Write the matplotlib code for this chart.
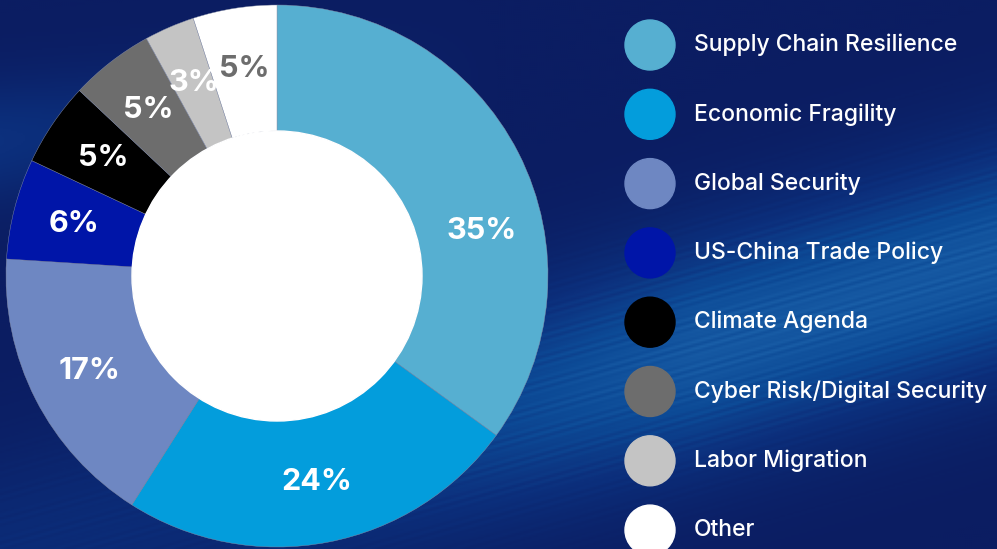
import numpy as np
import matplotlib.pyplot as plt
from matplotlib.colors import LinearSegmentedColormap

labels = ["Supply Chain Resilience", "Economic Fragility", "Global Security",
          "US-China Trade Policy", "Climate Agenda", "Cyber Risk/Digital Security",
          "Labor Migration", "Other"]
values = [35, 24, 17, 6, 5, 5, 3, 5]
colors = ["#56afd1", "#039ddc", "#6e87c2", "#0015a8", "#000000", "#6d6d6d", "#c4c4c4", "#ffffff"]
label_colors = ["white", "white", "white", "white", "white", "white", "white", "#6d6d6d"]
# label angle nudge (degrees), the big slice label sits lower than its mid angle
label_nudge = [-14.5, 0, 0, 0, 0, 0, 0, 0]

W, H = 997, 549
fig = plt.figure(figsize=(W / 100, H / 100), dpi=100)
ax = fig.add_axes([0, 0, 1, 1])

# background: navy with a lighter streaky band through the lower right
yy, xx = np.mgrid[0:H:2, 0:W:2].astype(float)
band_c = 560 - 0.30 * xx
band = np.exp(-((yy - band_c) / 110.0) ** 2)
streaks = 0.5 + 0.5 * np.sin((yy + 0.28 * xx) * 0.9) * np.sin((yy + 0.25 * xx) * 0.13)
g = band * (0.75 + 0.25 * streaks) * np.clip(xx / 700, 0.3, 1.0)
ul = np.exp(-((yy - (140 - 0.12 * xx)) / 60.0) ** 2) * np.clip(1 - xx / 500, 0, 1) * 0.35
g = np.clip(g + ul, 0, 1)
cmap = LinearSegmentedColormap.from_list("bg", ["#0b1d62", "#0c2f7c", "#0c4a96", "#1a5fa8"])
ax.imshow(g, extent=[0, W, 0, H], cmap=cmap, aspect='auto', zorder=0, origin='upper')

cx, cy, r_out, r_in = 277, H - 276, 271, 145
wedges, _ = ax.pie(values, colors=colors, startangle=90, counterclock=False,
                   center=(cx, cy), radius=r_out, frame=True,
                   wedgeprops=dict(width=r_out - r_in, edgecolor='#8890a8', linewidth=0.3))
for w in wedges:
    w.set_zorder(2)
ax.add_patch(plt.Circle((cx, cy), r_in, color='white', zorder=3))
ax.set_xlim(0, W)
ax.set_ylim(0, H)
ax.set_aspect('equal')
ax.axis('off')

# percentage labels in the ring
total = sum(values)
ang = 90.0
r_lab = 210
for v, lc, nd in zip(values, label_colors, label_nudge):
    mid = np.deg2rad(ang - v / total * 180 + nd)
    ax.text(cx + r_lab * np.cos(mid), cy + r_lab * np.sin(mid), f"{v}%",
            ha='center', va='center', color=lc, fontsize=22, fontweight='bold',
            family='Inter', zorder=4)
    ang -= v / total * 360

# legend
for i, (lab, c) in enumerate(zip(labels, colors)):
    y = H - (45 + i * 69.3)
    ax.add_patch(plt.Circle((650, y), 25, color=c, zorder=4))
    ax.text(694, y, lab, ha='left', va='center', color='white', fontsize=16.5,
            family='Inter', fontweight='medium', zorder=4)

fig.savefig("out.png", dpi=100)
